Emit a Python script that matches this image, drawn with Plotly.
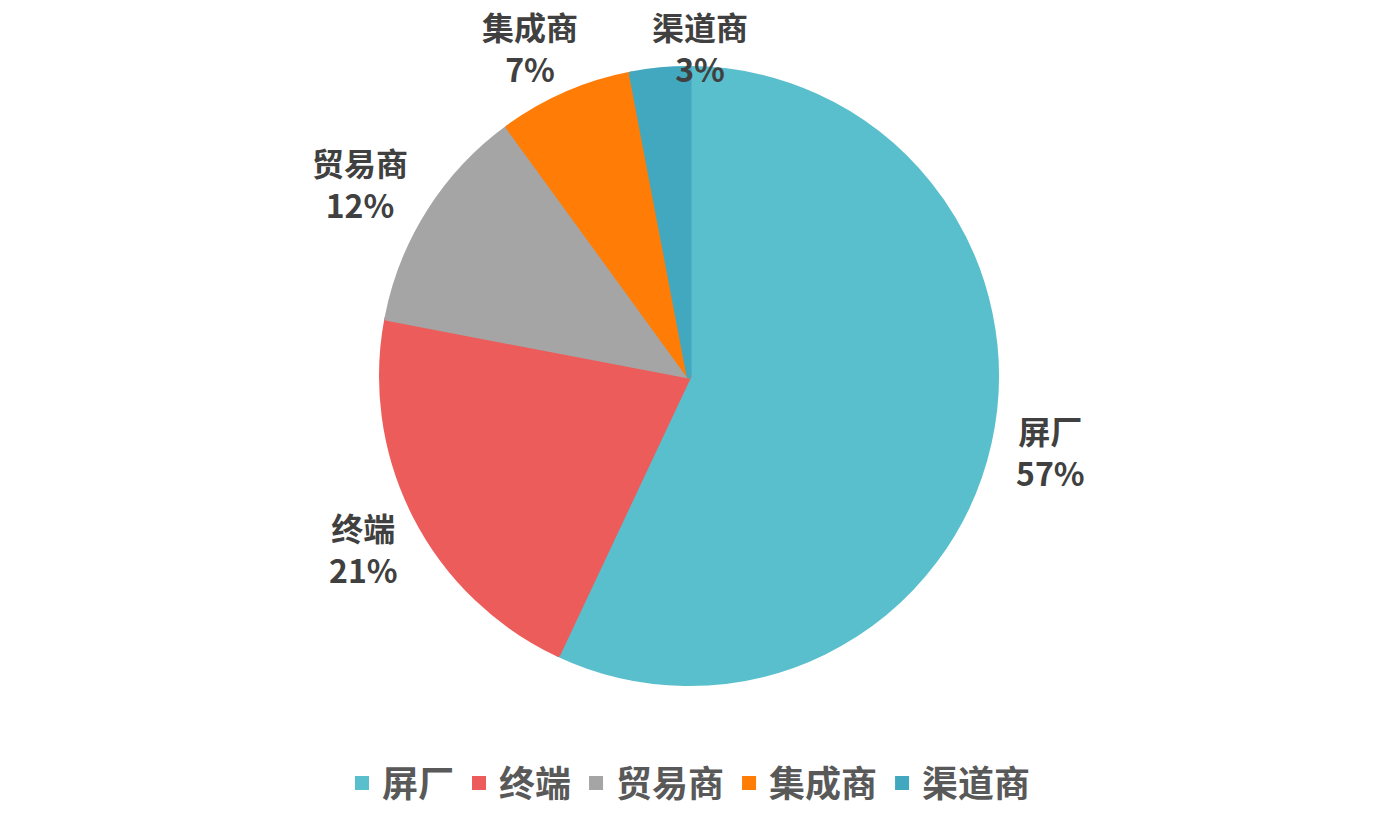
import plotly.graph_objects as go

categories = ["屏厂", "终端", "贸易商", "集成商", "渠道商"]
values = [57, 21, 12, 7, 3]
colors = ["#5ABFCC", "#EC5C5A", "#A5A5A5", "#FF7D06", "#42A8C0"]

# label block centres (pixels in the 1378x834 window)
label_x = [1050, 363, 360, 530, 700]
label_y = [451, 548, 183, 47, 47]

W, H = 1378, 834
OFF = 8  # default page body margin
cx, cy, r = 689 - OFF, 376 - OFF, 307.5

fig = go.Figure(go.Pie(
    labels=categories,
    values=values,
    sort=False,
    direction="clockwise",
    rotation=0,
    marker=dict(colors=colors, line=dict(width=5, color=colors)),
    textinfo="none",
    automargin=False,
    hoverinfo="label+percent",
    domain=dict(x=[(cx - r) / W, (cx + r) / W], y=[1 - (cy + r) / H, 1 - (cy - r) / H]),
))

for name, v, lx, ly in zip(categories, values, label_x, label_y):
    fig.add_annotation(
        x=(lx - OFF) / W, y=1 - (ly - OFF) / H, xref="paper", yref="paper",
        text=f"{name}<br>{v}%", showarrow=False,
        xanchor="center", yanchor="middle", align="center",
        font=dict(family="Noto Sans CJK SC", size=32, color="#404040", weight="bold"),
    )

fig.update_layout(
    width=W, height=H,
    margin=dict(l=0, r=0, t=0, b=0),
    paper_bgcolor="white", plot_bgcolor="white",
    showlegend=True,
    legend=dict(
        orientation="h", x=(689 - OFF) / W, xanchor="center", y=1 - (783 - OFF) / H, yanchor="middle",
        font=dict(family="Noto Sans CJK SC", size=36, color="#595959", weight="bold"),
        itemsizing="constant",
    ),
)

fig.write_html("out.html")
